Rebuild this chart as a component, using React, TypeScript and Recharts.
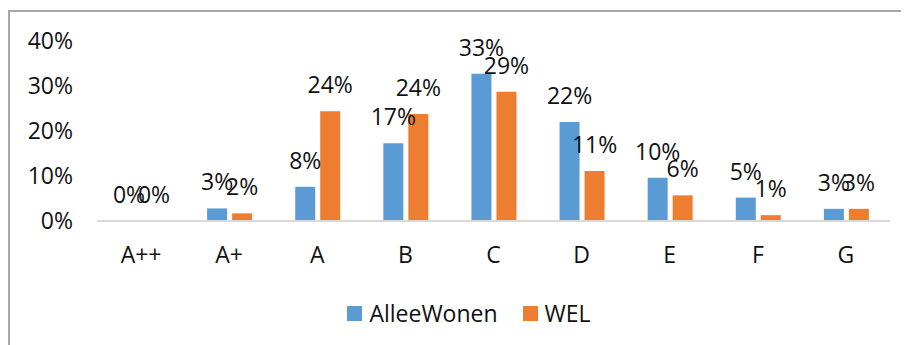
import React from "react";
import { BarChart, Bar, XAxis, YAxis, Legend, LabelList } from "recharts";

const categories = ["A++", "A+", "A", "B", "C", "D", "E", "F", "G"];
const alleeWonen = [0, 2.8, 7.6, 17.3, 32.7, 22, 9.6, 5.2, 2.7];
const wel = [0, 1.7, 24.4, 23.8, 28.7, 11.1, 5.7, 1.3, 2.7];
const yTicks = [0, 10, 20, 30, 40];

const data = categories.map((c, i) => ({ name: c, AlleeWonen: alleeWonen[i], WEL: wel[i] }));

const FONT = "'Open Sans', sans-serif";
const TEXT = "#111";
const BLUE = "#5b9bd5";
const ORANGE = "#ed7d31";

const pct = (v: number) => `${Math.round(v)}%`;

const renderLegend = () => (
  <div style={{ display: "flex", justifyContent: "center", alignItems: "center", height: 30, width: 918, fontFamily: FONT, fontSize: 23, color: TEXT }}>
    {[
      { label: "AlleeWonen", color: BLUE },
      { label: "WEL", color: ORANGE },
    ].map((it, i) => (
      <div key={it.label} style={{ display: "flex", alignItems: "center", marginLeft: i ? 25 : 0 }}>
        <span style={{ width: 15, height: 15, background: it.color, marginRight: 7, display: "inline-block" }} />
        <span>{it.label}</span>
      </div>
    ))}
  </div>
);

export default function App() {
  return (
    <div style={{ marginTop: 2, borderTop: "2px solid #a6a6a6", borderLeft: "2px solid #a6a6a6", width: 899, height: 333, overflow: "hidden", fontFamily: FONT }}>
      <BarChart width={899} height={333} data={data} margin={{ top: 29, right: 19, left: 0, bottom: 17 }} barSize={20} barGap={5}>
        <XAxis
          dataKey="name"
          axisLine={{ stroke: "#d9d9d9", strokeWidth: 2 }}
          tickLine={false}
          tickMargin={20}
          height={77}
          interval={0}
          tick={{ fontFamily: FONT, fontSize: 23, fill: TEXT }}
        />
        <YAxis
          domain={[0, 40]}
          ticks={yTicks}
          tickFormatter={pct}
          axisLine={false}
          tickLine={false}
          tickMargin={18}
          width={87}
          tick={{ fontFamily: FONT, fontSize: 23, fill: TEXT }}
        />
        <Legend verticalAlign="bottom" content={renderLegend} wrapperStyle={{ left: 0, width: 918 }} />
        <Bar dataKey="AlleeWonen" fill={BLUE} minPointSize={0.01} isAnimationActive={false}>
          <LabelList dataKey="AlleeWonen" position="top" offset={18} formatter={pct} style={{ fontFamily: FONT, fontSize: 23, fill: TEXT }} />
        </Bar>
        <Bar dataKey="WEL" fill={ORANGE} minPointSize={0.01} isAnimationActive={false}>
          <LabelList dataKey="WEL" position="top" offset={18} formatter={pct} style={{ fontFamily: FONT, fontSize: 23, fill: TEXT }} />
        </Bar>
      </BarChart>
    </div>
  );
}
